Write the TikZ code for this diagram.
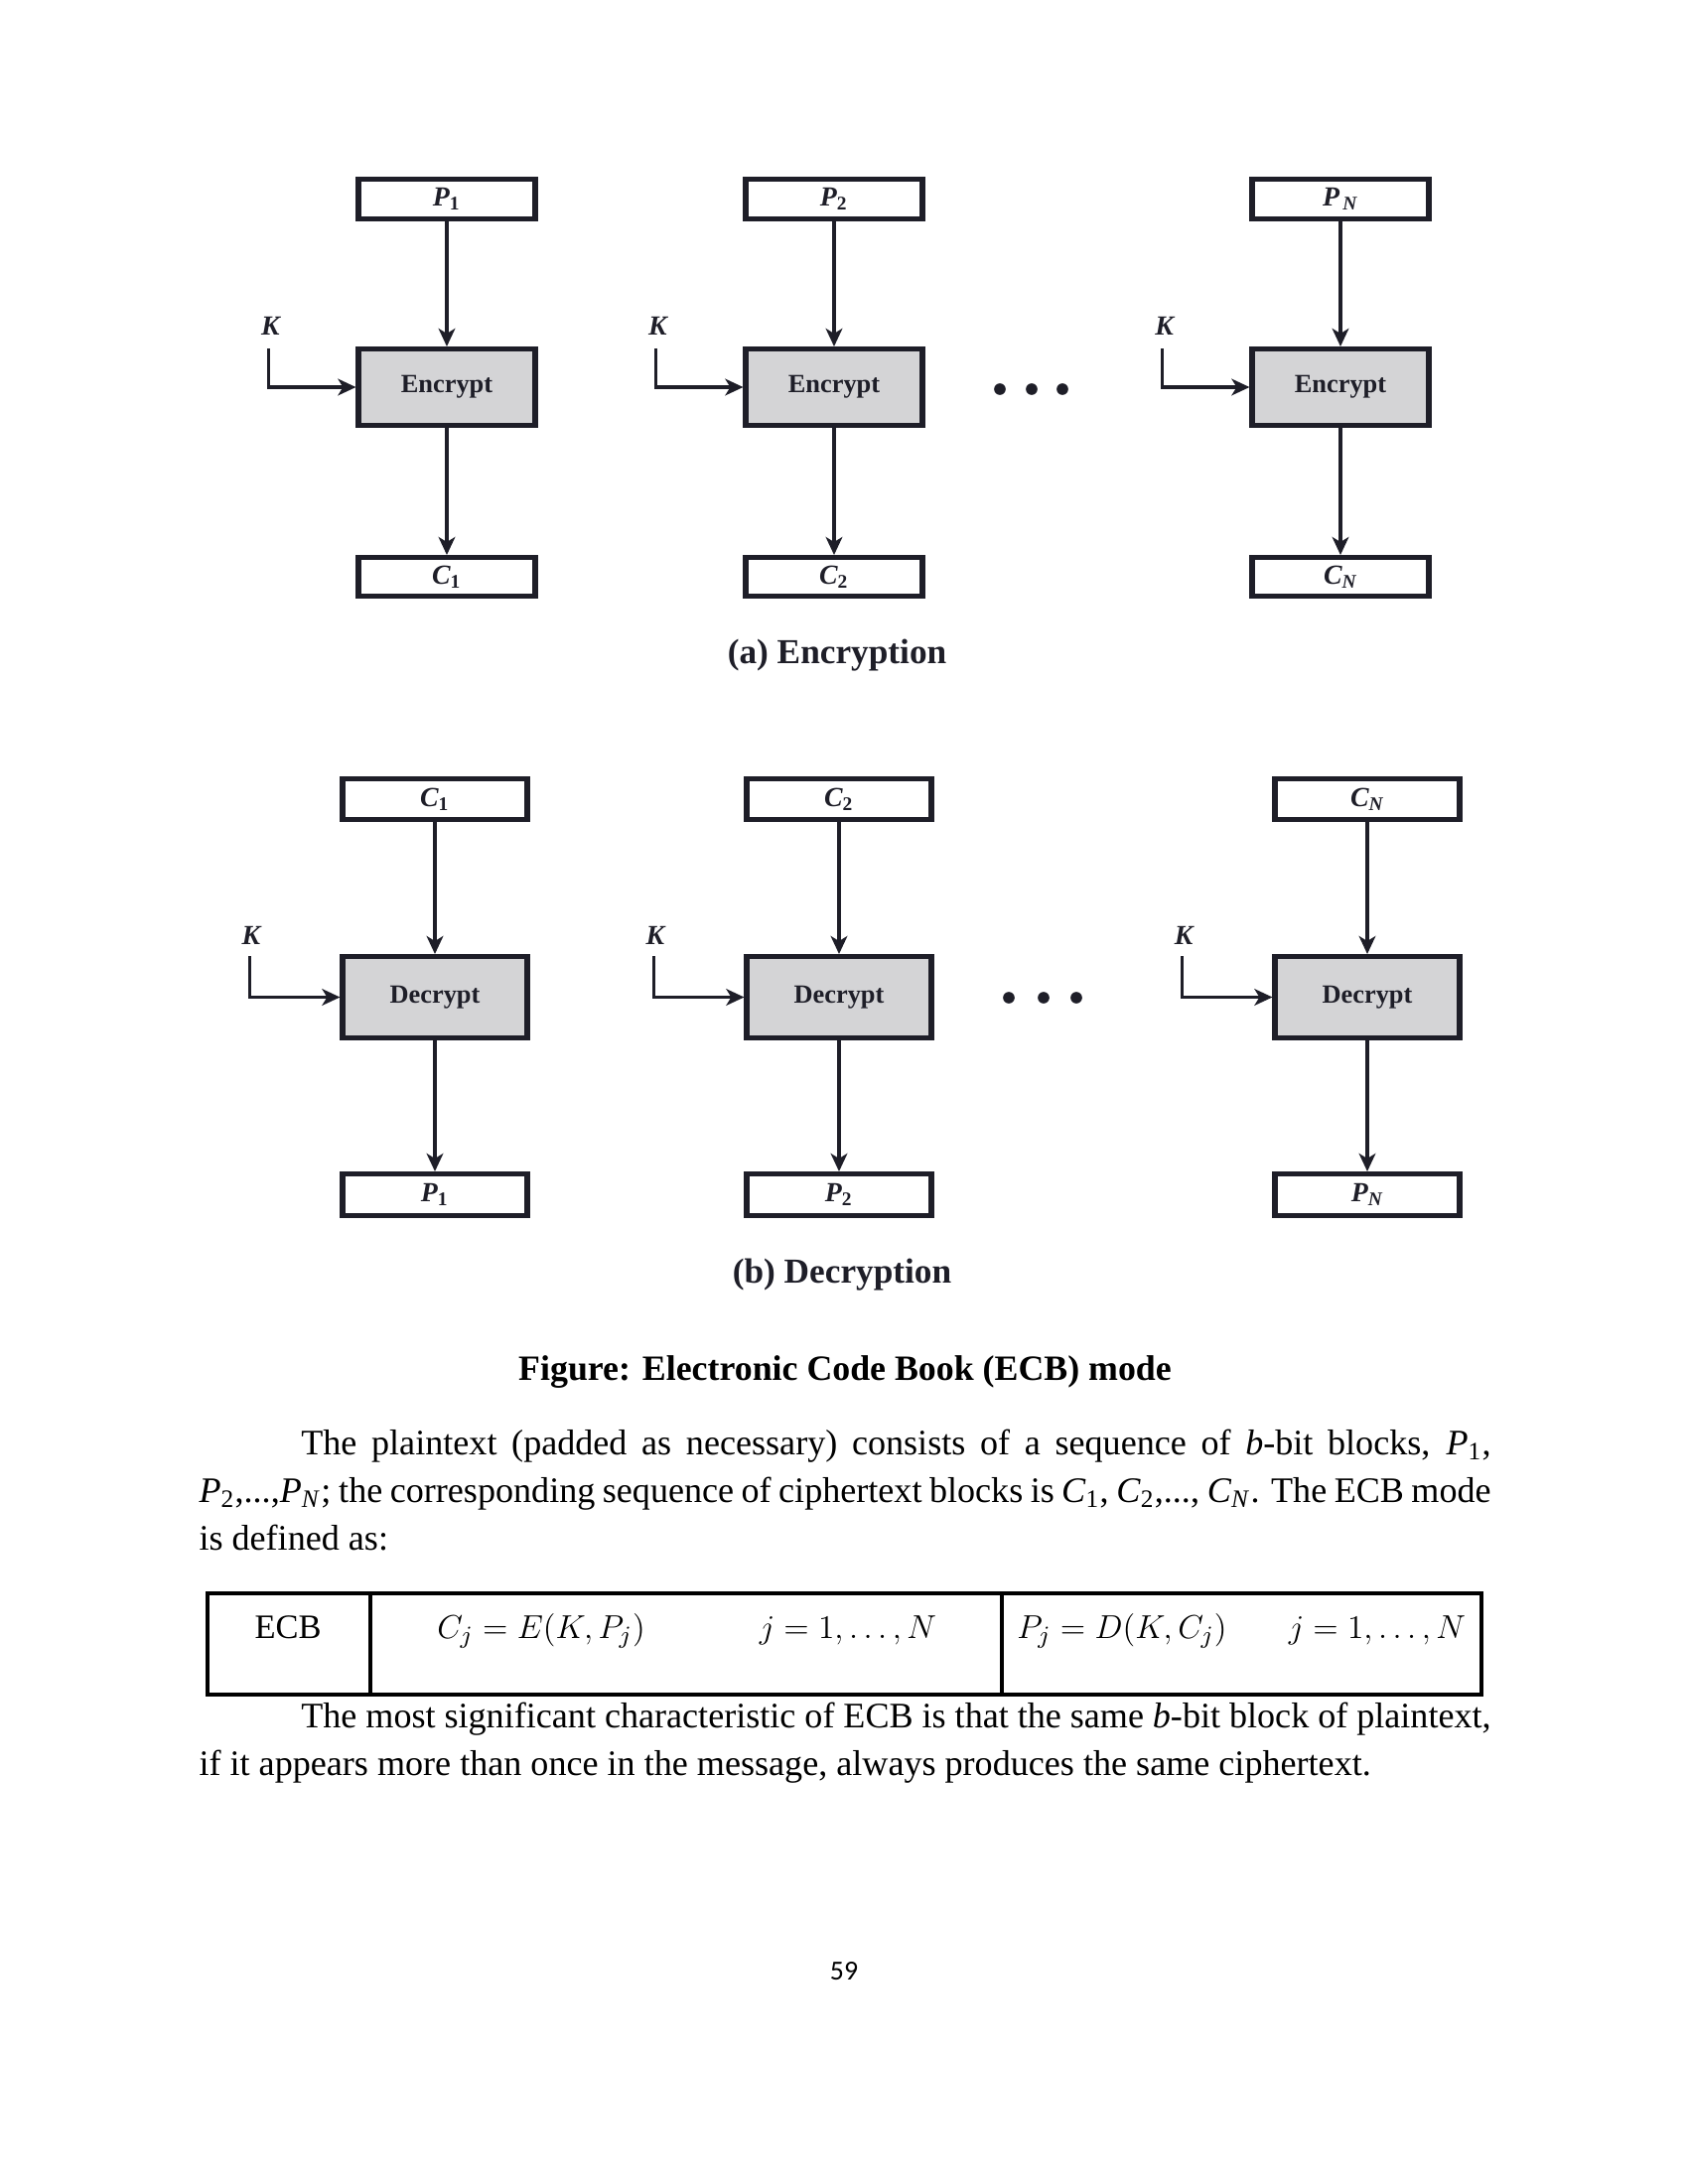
\documentclass[tikz,border=0pt]{standalone}
\usepackage{fontspec}
\setmainfont{Liberation Serif}
\newfontfamily\pagenumfont{Carlito}
\usetikzlibrary{arrows.meta}
\definecolor{ink}{HTML}{1E1E28}
\definecolor{boxgray}{HTML}{D4D4D6}
\begin{document}
\begin{tikzpicture}[x=0.36pt,y=-0.36pt,
  every node/.style={inner sep=0pt},
  iobox/.style={draw=ink, line width=1.9pt, fill=white, text=ink,
    font=\fontsize{10}{11}\selectfont\bfseries\itshape},
  encbox/.style={draw=ink, line width=1.9pt, fill=boxgray, text=ink,
    font=\fontsize{9.5}{11}\selectfont\bfseries},
  keylbl/.style={text=ink, font=\fontsize{10}{11}\selectfont\bfseries\itshape},
  conn/.style={draw=ink, line width=1.15pt, -{Stealth[length=6.5pt,width=6pt,inset=1.8pt]}},
  dotmark/.style={fill=ink, draw=none},
  subcap/.style={text=ink, font=\fontsize{12.7}{14}\selectfont\bfseries},
  body/.style={font=\fontsize{13}{17.3}\selectfont},
  tbl/.style={draw=black, line width=1.1pt}]
\useasboundingbox (0,0) rectangle (1700,2200);
\fill[white] (0,0) rectangle (1700,2200);

% ---------------- (a) Encryption ----------------
\foreach \i/\cx/\pl/\cl in {1/450/{P\textsubscript{\upshape 1}}/{C\textsubscript{\upshape 1}},
                           2/840/{P\textsubscript{\upshape 2}}/{C\textsubscript{\upshape 2}},
                           3/1350/{P\textsubscript{\,N}}/{C\textsubscript{N}}}{
  \node[iobox, minimum width=64pt, minimum height=14.3pt] (ep\i) at (\cx,200.5) {\pl};
  \node[encbox, minimum width=64pt, minimum height=27.6pt] (ee\i) at (\cx,390) {Encrypt};
  \node[iobox, minimum width=64pt, minimum height=13.9pt] (ec\i) at (\cx,581) {\cl};
  \coordinate (ek\i) at (\cx-179.5,351);
  \node[keylbl] (ekl\i) at (\cx-177.5,328) {K};
  \draw[conn] (ep\i) -- (ee\i);
  \draw[conn] (ee\i) -- (ec\i);
  \draw[conn] (ek\i) |- (ee\i.west);
}
\foreach \dx in {1007,1039,1070} \fill[dotmark] (\dx,392) circle (2.1pt);
\node[subcap, anchor=base] (capa) at (843,668) {(a) Encryption};

% ---------------- (b) Decryption ----------------
\foreach \i/\cx/\cl/\pl in {1/438/{C\textsubscript{\upshape 1}}/{P\textsubscript{\upshape 1}},
                           2/845/{C\textsubscript{\upshape 2}}/{P\textsubscript{\upshape 2}},
                           3/1377/{C\textsubscript{N}}/{P\textsubscript{N}}}{
  \node[iobox, minimum width=66.9pt, minimum height=14.7pt] (dc\i) at (\cx,805) {\cl};
  \node[encbox, minimum width=66.9pt, minimum height=29.4pt] (dd\i) at (\cx,1004.5) {Decrypt};
  \node[iobox, minimum width=66.9pt, minimum height=15pt] (dp\i) at (\cx,1203.5) {\pl};
  \coordinate (dk\i) at (\cx-186.5,963);
  \node[keylbl] (dkl\i) at (\cx-185,942) {K};
  \draw[conn] (dc\i) -- (dd\i);
  \draw[conn] (dd\i) -- (dp\i);
  \draw[conn] (dk\i) |- (dd\i.west);
}
\foreach \dx in {1016,1051,1084} \fill[dotmark] (\dx,1005) circle (2.1pt);
\node[subcap, anchor=base] (capb) at (848,1292) {(b) Decryption};

% ---------------- Figure caption and text ----------------
\node[anchor=base, font=\fontsize{12.9}{15}\selectfont\bfseries] (figcap) at (851,1390)
  {Figure: Electronic Code Book (ECB) mode};

\node[anchor=base west, body] (para1) at (200,1465) {\parbox[t]{468.4pt}{\fontsize{13}{17.3}\selectfont
  \hspace*{37pt}The plaintext (padded as necessary) consists of a sequence of \textit{b}-bit blocks, \textit{P}\textsubscript{1},\linebreak
  \textit{P}\textsubscript{2},...,\textit{P}\textsubscript{\textit{N}}; the corresponding sequence of ciphertext blocks is \textit{C}\textsubscript{1}, \textit{C}\textsubscript{2},..., \textit{C}\textsubscript{\textit{N}}. The ECB mode\linebreak
  is defined as:}};

% table
\draw[tbl] (209,1605) rectangle (1492,1707);
\draw[tbl] (373,1605) -- (373,1707);
\draw[tbl] (1009,1605) -- (1009,1707);
\node[anchor=base, font=\fontsize{12.4}{14}\selectfont] (ecb) at (290,1650) {ECB};
\node[anchor=base, font=\fontsize{12.5}{15}\selectfont] (fenc) at (545,1650) {$C_j = E\bigl(K, P_j\bigr)$};
\node[anchor=base, font=\fontsize{12.5}{15}\selectfont] (jenc) at (854,1650) {$j = 1, \ldots, N$};
\node[anchor=base, font=\fontsize{12.5}{15}\selectfont] (fdec) at (1130,1650) {$P_j = D\bigl(K, C_j\bigr)$};
\node[anchor=base, font=\fontsize{12.5}{15}\selectfont] (jdec) at (1387,1650) {$j = 1, \ldots, N$};

\node[anchor=base west, body] (para2) at (200,1740) {\parbox[t]{468.4pt}{\fontsize{13}{17.3}\selectfont
  \hspace*{37pt}The most significant characteristic of ECB is that the same \textit{b}-bit block of plaintext,\linebreak
  if it appears more than once in the message, always produces the same ciphertext.}};

\node[anchor=base, font=\pagenumfont\fontsize{10}{12}\selectfont] (pgnum) at (850,1994) {59};
\end{tikzpicture}
\end{document}
